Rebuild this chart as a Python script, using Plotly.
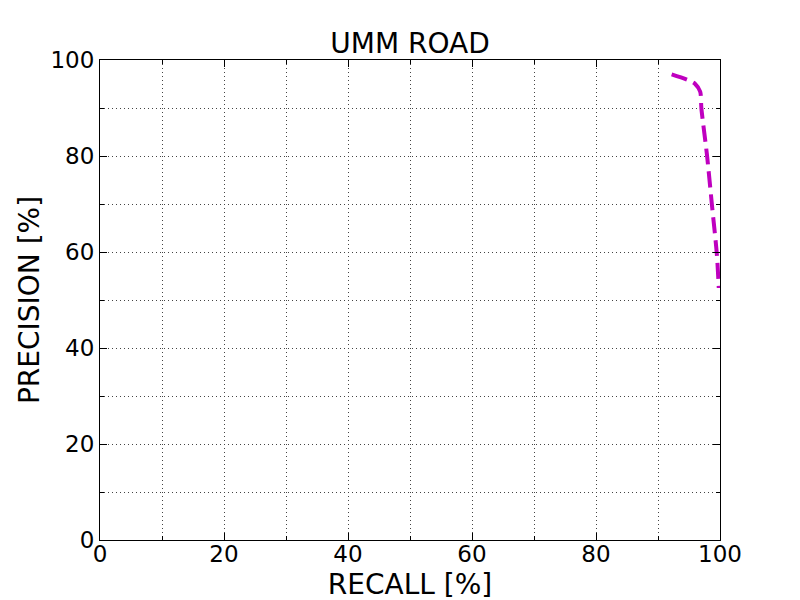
import plotly.graph_objects as go

recall = [92.2, 94.9, 96.0, 96.8, 97.0, 97.9, 98.7, 99.5, 99.8]
precision = [97.0, 95.8, 95.0, 93.4, 89.9, 80.2, 69.8, 59.4, 52.5]
tick_vals = [0, 20, 40, 60, 80, 100]
tick_text = ["0", "20", "40", "60", "80", "100"]

fig = go.Figure()
fig.add_trace(go.Scatter(x=recall, y=precision, mode="lines",
                         line=dict(color="#bf00bf", width=4, dash="16px,7px", shape="spline", smoothing=0.8),
                         showlegend=False))

axis_common = dict(
    range=[0, 100], tickvals=tick_vals, ticktext=tick_text,
    showgrid=True, gridcolor="#444444", griddash="1px,3px", gridwidth=1,
    ticks="inside", ticklen=7, tickcolor="black",
    showline=True, linecolor="black", linewidth=1.2, mirror="ticks",
    zeroline=False, tickfont=dict(size=23, color="black"),
    automargin=False,
    minor=dict(dtick=10, showgrid=True, gridcolor="#444444", griddash="1px,3px", gridwidth=1,
               ticks="inside", ticklen=4, tickcolor="black"),
)

fig.update_layout(
    width=800, height=600,
    paper_bgcolor="white", plot_bgcolor="white",
    font=dict(family="DejaVu Sans", color="black"),
    margin=dict(l=92, r=88, t=52, b=68),
    title=dict(text="UMM ROAD", xref="paper", x=0.5, xanchor="center", y=1 - 35 / 600, yanchor="middle",
               font=dict(size=28)),
    xaxis=dict(axis_common, ticklabelstandoff=-7,
               title=dict(text="RECALL [%]", font=dict(size=28), standoff=8)),
    yaxis=dict(axis_common, title=dict(text="PRECISION [%]", font=dict(size=28), standoff=2)),
)

fig.write_html("out.html")
